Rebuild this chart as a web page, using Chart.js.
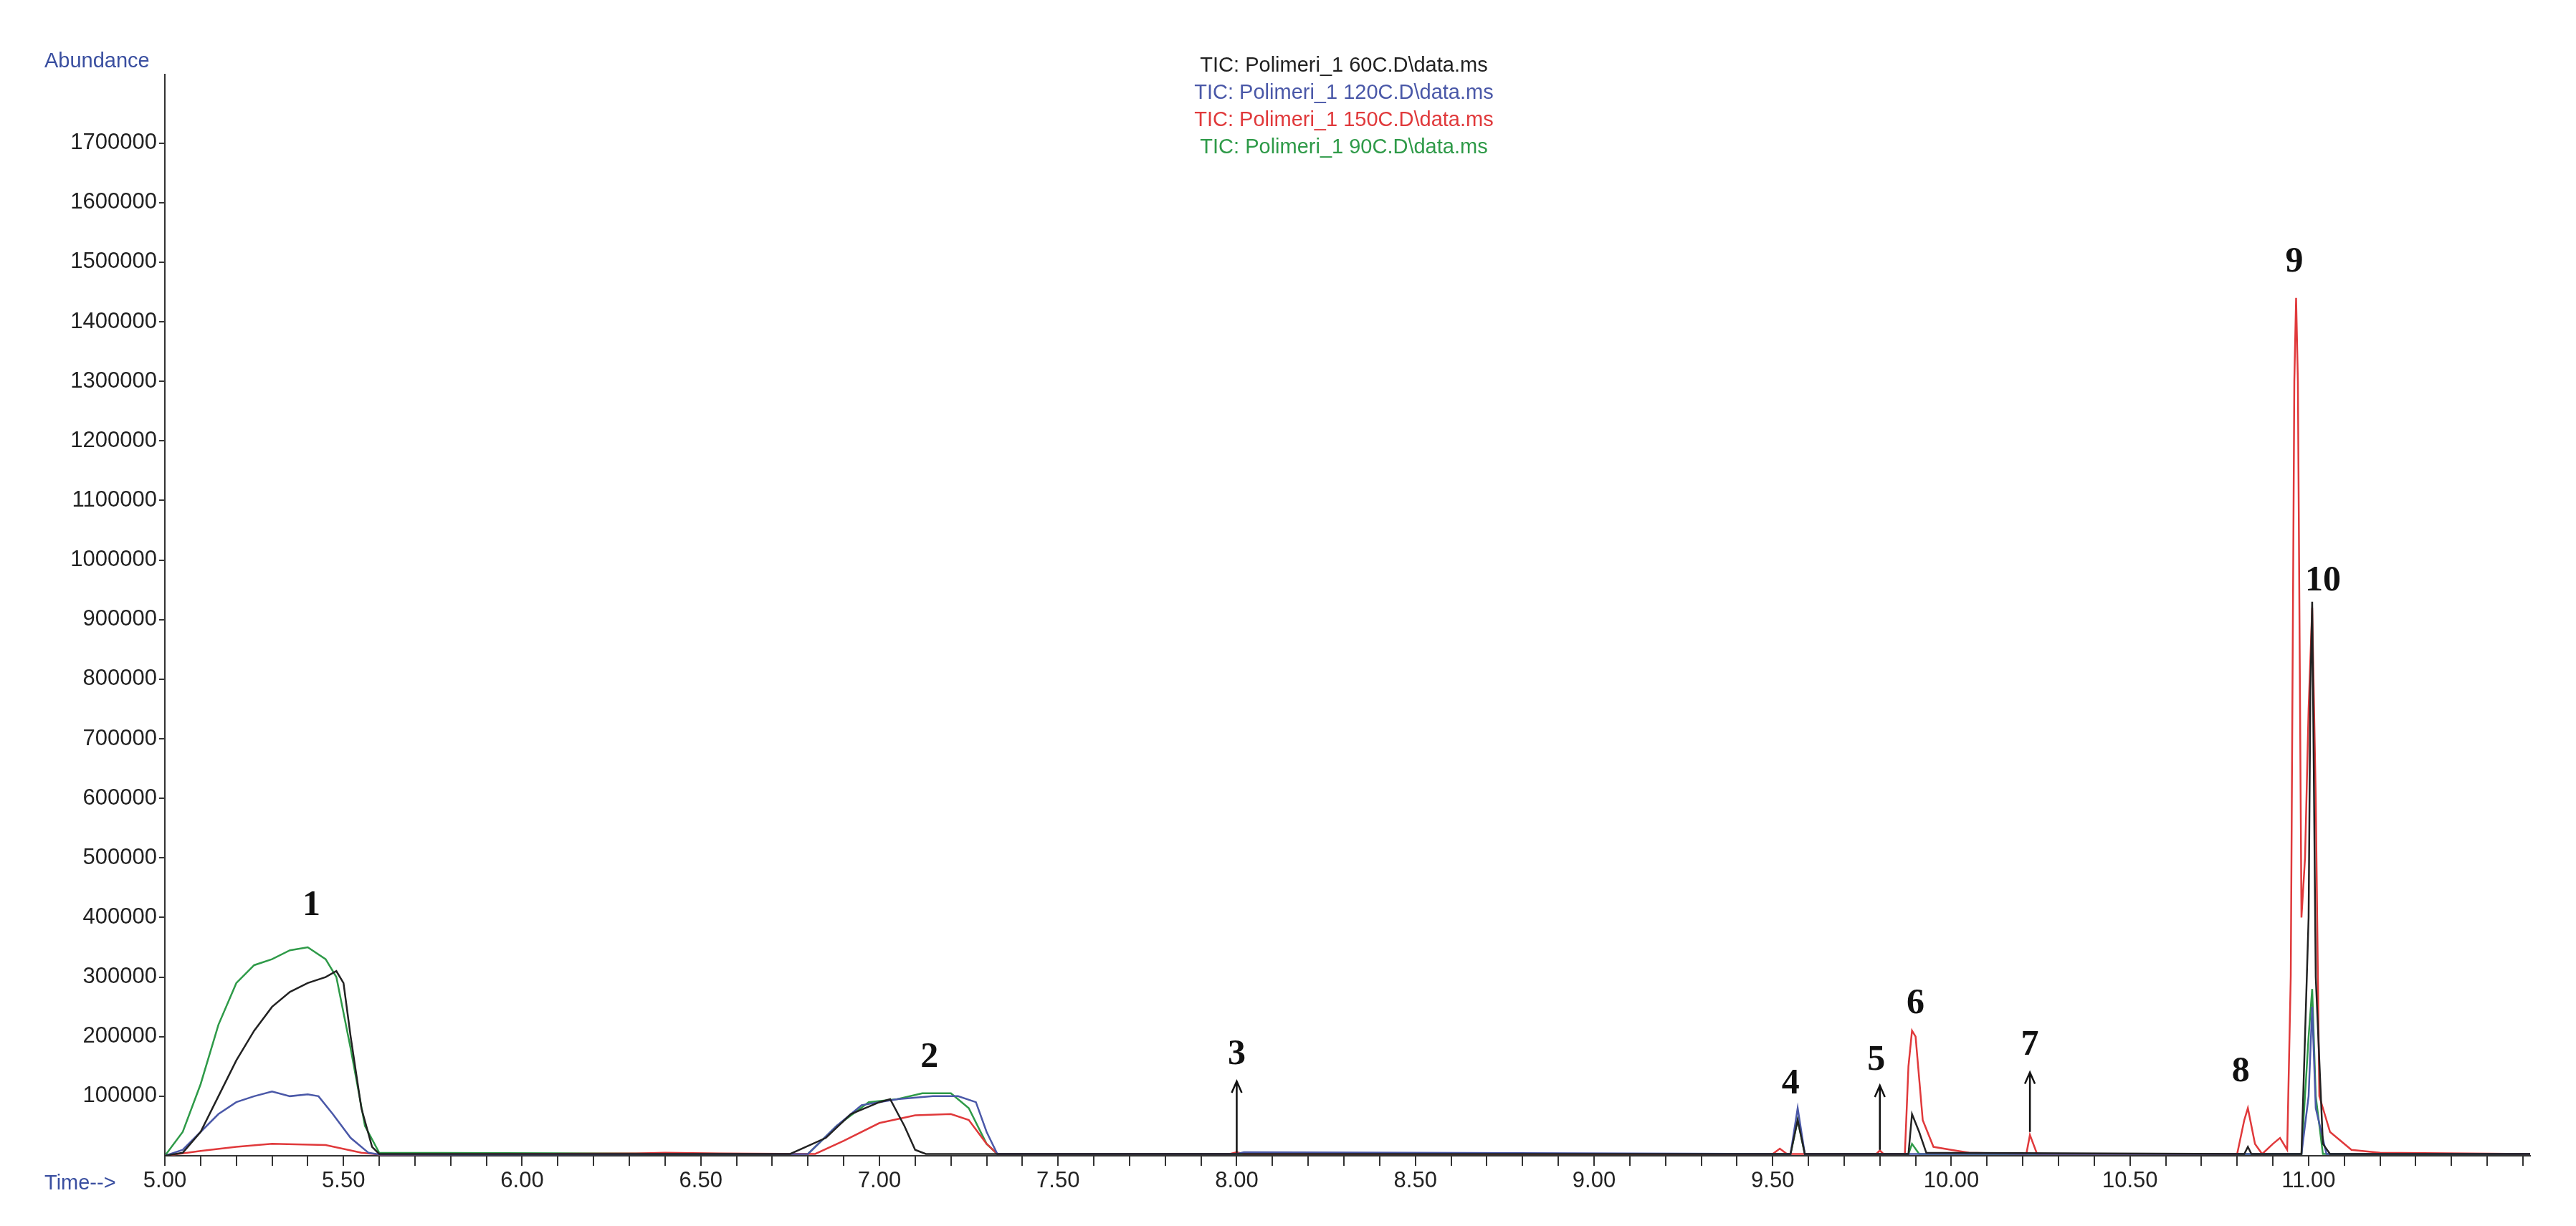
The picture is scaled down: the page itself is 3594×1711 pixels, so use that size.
<!DOCTYPE html>
<html>
<head>
<meta charset="utf-8">
<script src="https://cdn.jsdelivr.net/npm/chart.js@4.4.0/dist/chart.umd.min.js"></script>
<style>
  html, body { margin: 0; padding: 0; background: #fff; }
  #wrap { width: 3594px; height: 1711px; position: relative; }
</style>
</head>
<body>
<div id="wrap"><canvas id="tic"></canvas></div>
<script>
// Chromatogram data (time in min, abundance)
const seriesNames = [
    "TIC: Polimeri_1 60C.D\\data.ms",
    "TIC: Polimeri_1 120C.D\\data.ms",
    "TIC: Polimeri_1 150C.D\\data.ms",
    "TIC: Polimeri_1 90C.D\\data.ms",
];
const seriesColors = ["#222222", "#4a58a8", "#e0393b", "#2e9a48"];

const time60 = [5.00,5.05,5.10,5.15,5.20,5.25,5.30,5.35,5.40,5.45,5.48,5.50,5.52,5.55,5.58,5.60,6.75,6.85,6.92,7.00,7.03,7.07,7.10,7.13,9.55,9.57,9.59,9.88,9.89,9.91,9.93,10.82,10.83,10.84,10.98,11.00,11.005,11.01,11.02,11.04,11.06,11.62];
const abund60 = [0,5000,40000,100000,160000,210000,250000,275000,290000,300000,310000,290000,200000,80000,15000,3000,3000,30000,70000,90000,95000,50000,10000,3000,3000,60000,3000,3000,70000,40000,5000,3000,15000,3000,3000,400000,780000,930000,300000,20000,3000,3000];

const time120 = [5.00,5.05,5.10,5.15,5.20,5.25,5.30,5.35,5.40,5.43,5.47,5.52,5.57,5.60,6.80,6.88,6.95,7.05,7.15,7.22,7.27,7.30,7.33,8.00,8.02,9.55,9.57,9.59,10.98,11.00,11.01,11.02,11.05,11.62];
const abund120 = [0,10000,40000,70000,90000,100000,108000,100000,103000,100000,70000,30000,5000,2000,3000,50000,85000,95000,100000,100000,90000,40000,3000,3000,6000,3000,80000,3000,3000,100000,250000,80000,3000,3000];

const time150 = [5.00,5.10,5.20,5.30,5.45,5.55,5.60,6.32,6.40,6.55,6.82,6.90,7.00,7.10,7.20,7.25,7.30,7.33,7.98,8.00,8.02,9.50,9.52,9.54,9.79,9.80,9.81,9.87,9.88,9.89,9.90,9.92,9.95,10.00,10.05,10.21,10.22,10.24,10.80,10.82,10.83,10.85,10.87,10.90,10.92,10.94,10.95,10.96,10.965,10.97,10.98,10.99,11.00,11.01,11.02,11.03,11.06,11.12,11.20,11.62];
const abund150 = [0,8000,15000,20000,18000,5000,2000,4000,5000,4000,3000,25000,55000,68000,70000,60000,20000,3000,3000,6000,3000,3000,12000,3000,3000,9000,3000,3000,150000,210000,200000,60000,15000,10000,5000,3000,35000,3000,3000,60000,80000,20000,3000,20000,30000,10000,300000,1300000,1440000,1300000,400000,500000,750000,920000,600000,100000,40000,10000,5000,3000];

const time90 = [5.00,5.05,5.10,5.15,5.20,5.25,5.30,5.35,5.40,5.45,5.48,5.52,5.56,5.60,6.80,6.88,6.97,7.05,7.12,7.20,7.25,7.30,7.33,9.55,9.57,9.59,9.88,9.89,9.91,10.98,11.00,11.01,11.02,11.04,11.62];
const abund90 = [0,40000,120000,220000,290000,320000,330000,345000,350000,330000,300000,180000,50000,5000,3000,50000,90000,95000,105000,105000,80000,20000,3000,3000,60000,3000,3000,20000,3000,3000,200000,280000,100000,3000,3000];

const yTicks = [100000,200000,300000,400000,500000,600000,700000,800000,900000,1000000,1100000,1200000,1300000,1400000,1500000,1600000,1700000];

// Peak labels and arrows
const peakLabels = ["1","2","3","4","5","6","7","8","9","10"];
const peakTimes = [5.41, 7.14, 8.00, 9.55, 9.79, 9.90, 10.22, 10.81, 10.96, 11.04];
const peakHeights = [390000, 135000, 140000, 90000, 130000, 225000, 155000, 110000, 1470000, 935000];
const arrowTimes = [8.00, 9.80, 10.22];
const arrowFrom = [5000, 10000, 40000];
const arrowTo = [125000, 118000, 140000];

const pairs = (xs, ys) => xs.map((x, i) => ({ x: x, y: ys[i] }));
const allTimes = [time60, time120, time150, time90];
const allAbund = [abund60, abund120, abund150, abund90];
const tickFont = "'Liberation Sans Narrow', 'Liberation Sans'";

const annotatePlugin = {
    id: "annotate",
    afterDatasetsDraw(chart) {
        const ctx = chart.ctx;
        const xs = chart.scales.x, ys = chart.scales.y;
        ctx.save();
        // peak numbers
        ctx.fillStyle = "#111";
        ctx.font = "bold 50px 'Liberation Serif'";
        ctx.textAlign = "center";
        ctx.textBaseline = "bottom";
        peakLabels.forEach((t, i) => {
            ctx.fillText(t, xs.getPixelForValue(peakTimes[i]), ys.getPixelForValue(peakHeights[i]));
        });
        // arrows
        ctx.strokeStyle = "#111";
        ctx.lineWidth = 2.5;
        arrowTimes.forEach((t, i) => {
            const px = xs.getPixelForValue(t);
            const y0 = ys.getPixelForValue(arrowFrom[i]);
            const y1 = ys.getPixelForValue(arrowTo[i]);
            ctx.beginPath();
            ctx.moveTo(px, y0); ctx.lineTo(px, y1);
            ctx.moveTo(px - 7, y1 + 16); ctx.lineTo(px, y1); ctx.lineTo(px + 7, y1 + 16);
            ctx.stroke();
        });
        // legend lines at top
        ctx.font = "29px " + tickFont;
        ctx.textBaseline = "middle";
        seriesNames.forEach((n, i) => {
            ctx.fillStyle = seriesColors[i];
            ctx.fillText(n, 1875, 92 + i * 38);
        });
        // axis captions
        ctx.fillStyle = "#3a4fa0";
        ctx.textAlign = "left";
        ctx.fillText("Abundance", 62, 86);
        ctx.fillText("Time-->", 62, 1652);
        ctx.restore();
    },
};

new Chart(document.getElementById("tic"), {
    type: "line",
    data: {
        datasets: seriesNames.map((n, i) => ({
            label: n,
            data: pairs(allTimes[i], allAbund[i]),
            borderColor: seriesColors[i],
            borderWidth: 2.5,
            pointRadius: 0,
            tension: 0,
            fill: false,
        })),
    },
    options: {
        responsive: true,
        maintainAspectRatio: false,
        animation: false,
        layout: { padding: { left: 20, right: 64, top: 104, bottom: 8 } },
        plugins: { legend: { display: false }, tooltip: { enabled: false } },
        scales: {
            x: {
                type: "linear",
                min: 5.0,
                max: 11.62,
                afterBuildTicks: (scale) => {
                    const t = [];
                    for (let v = 50; v <= 116; v++) t.push({ value: v / 10 });
                    scale.ticks = t;
                },
                afterFit: (scale) => { scale.height = 90; },
                ticks: {
                    autoSkip: false,
                    maxRotation: 0,
                    color: "#222",
                    font: { family: tickFont, size: 31 },
                    callback: (v) => (Math.round(v * 10) % 5 === 0 && v < 11.2 ? v.toFixed(2) : ""),
                },
                grid: { drawOnChartArea: false, tickLength: 14, color: "#333", lineWidth: 2 },
                border: { color: "#333", width: 2 },
            },
            y: {
                min: 0,
                max: 1815000,
                afterBuildTicks: (scale) => { scale.ticks = yTicks.map((v) => ({ value: v })); },
                afterFit: (scale) => { scale.width = 210; },
                ticks: {
                    color: "#222",
                    font: { family: tickFont, size: 31 },
                    callback: (v) => String(v),
                },
                grid: { drawOnChartArea: false, tickLength: 8, color: "#333", lineWidth: 2 },
                border: { color: "#333", width: 2 },
            },
        },
    },
    plugins: [annotatePlugin],
});
</script>
</body>
</html>
